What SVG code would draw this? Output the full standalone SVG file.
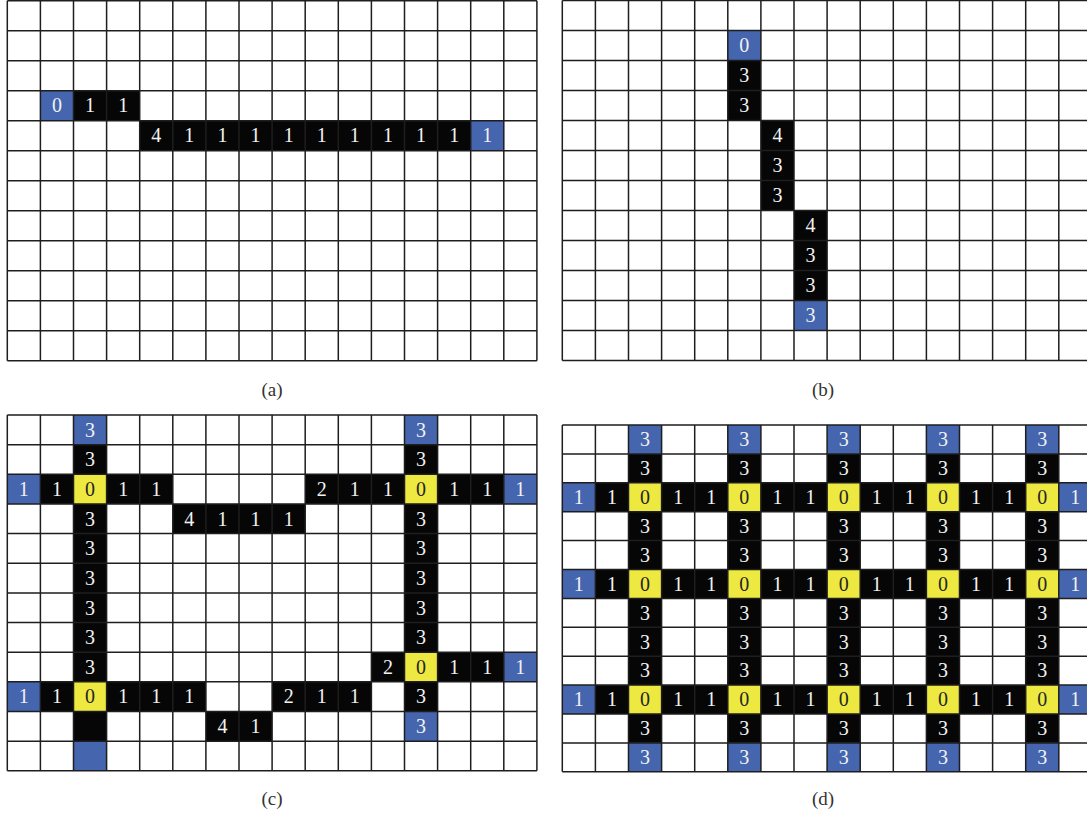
<svg xmlns="http://www.w3.org/2000/svg" width="1087" height="815" viewBox="0 0 1087 815">
<style>
.bg{fill:#ffffff}
.k0{fill:#060606}
.bl{fill:#4565ae}
.ye{fill:#eee941}
.grid{fill:none;stroke:#1e1e1e;stroke-width:1.5}
text{font-family:"Liberation Serif","Times New Roman",serif;font-size:20px;text-anchor:middle}
.w{fill:#f2f2f2}
.d{fill:#262626}
.cap{font-size:19px;fill:#333333}
</style>
<rect class="bg" x="0" y="0" width="1087" height="815"/>

<!-- Panel (a) -->
<g id="panel-a" transform="translate(7.3,0.7)">
  <rect class="bl" x="33.1" y="90" width="33.1" height="30"/>
  <rect class="k0" x="66.2" y="90" width="66.2" height="30"/>
  <rect class="k0" x="132.4" y="120" width="331" height="30"/>
  <rect class="bl" x="463.4" y="120" width="33.1" height="30"/>
  <path class="grid" d="M0 0V360M33.1 0V360M66.2 0V360M99.3 0V360M132.4 0V360M165.5 0V360M198.6 0V360M231.7 0V360M264.8 0V360M297.9 0V360M331 0V360M364.1 0V360M397.2 0V360M430.3 0V360M463.4 0V360M496.5 0V360M529.6 0V360M0 0H529.6M0 30H529.6M0 60H529.6M0 90H529.6M0 120H529.6M0 150H529.6M0 180H529.6M0 210H529.6M0 240H529.6M0 270H529.6M0 300H529.6M0 330H529.6M0 360H529.6"/>
  <text class="w" x="49.65" y="111.8">0</text>
  <text class="w" x="82.75" y="111.8">1</text>
  <text class="w" x="115.85" y="111.8">1</text>
  <text class="w" x="148.95" y="141.8">4</text>
  <text class="w" x="182.05" y="141.8">1</text>
  <text class="w" x="215.15" y="141.8">1</text>
  <text class="w" x="248.25" y="141.8">1</text>
  <text class="w" x="281.35" y="141.8">1</text>
  <text class="w" x="314.45" y="141.8">1</text>
  <text class="w" x="347.55" y="141.8">1</text>
  <text class="w" x="380.65" y="141.8">1</text>
  <text class="w" x="413.75" y="141.8">1</text>
  <text class="w" x="446.85" y="141.8">1</text>
  <text class="w" x="479.95" y="141.8">1</text>
</g>
<text class="cap" x="272" y="396">(a)</text>

<!-- Panel (b) -->
<g id="panel-b" transform="translate(562.3,0.5)">
  <rect class="bl" x="165.5" y="30" width="33.1" height="30"/>
  <rect class="k0" x="165.5" y="60" width="33.1" height="60"/>
  <rect class="k0" x="198.6" y="120" width="33.1" height="90"/>
  <rect class="k0" x="231.7" y="210" width="33.1" height="90"/>
  <rect class="bl" x="231.7" y="300" width="33.1" height="30"/>
  <path class="grid" d="M0 0V360M33.1 0V360M66.2 0V360M99.3 0V360M132.4 0V360M165.5 0V360M198.6 0V360M231.7 0V360M264.8 0V360M297.9 0V360M331 0V360M364.1 0V360M397.2 0V360M430.3 0V360M463.4 0V360M496.5 0V360M529.6 0V360M0 0H529.6M0 30H529.6M0 60H529.6M0 90H529.6M0 120H529.6M0 150H529.6M0 180H529.6M0 210H529.6M0 240H529.6M0 270H529.6M0 300H529.6M0 330H529.6M0 360H529.6"/>
  <text class="w" x="182.05" y="51.8">0</text>
  <text class="w" x="182.05" y="81.8">3</text>
  <text class="w" x="182.05" y="111.8">3</text>
  <text class="w" x="215.15" y="141.8">4</text>
  <text class="w" x="215.15" y="171.8">3</text>
  <text class="w" x="215.15" y="201.8">3</text>
  <text class="w" x="248.25" y="231.8">4</text>
  <text class="w" x="248.25" y="261.8">3</text>
  <text class="w" x="248.25" y="291.8">3</text>
  <text class="w" x="248.25" y="321.8">3</text>
</g>
<text class="cap" x="823" y="396">(b)</text>

<!-- Panel (c) -->
<g id="panel-c" transform="translate(7.3,415)">
  <rect class="k0" x="66.2" y="29.65" width="33.1" height="296.5"/>
  <rect class="k0" x="33.1" y="59.3" width="132.4" height="29.65"/>
  <rect class="k0" x="297.9" y="59.3" width="198.6" height="29.65"/>
  <rect class="k0" x="165.5" y="88.95" width="132.4" height="29.65"/>
  <rect class="k0" x="397.2" y="29.65" width="33.1" height="266.85"/>
  <rect class="k0" x="364.1" y="237.2" width="132.4" height="29.65"/>
  <rect class="k0" x="33.1" y="266.85" width="165.5" height="29.65"/>
  <rect class="k0" x="264.8" y="266.85" width="99.3" height="29.65"/>
  <rect class="k0" x="198.6" y="296.5" width="66.2" height="29.65"/>
  <rect class="bl" x="66.2" y="0" width="33.1" height="29.65"/>
  <rect class="bl" x="397.2" y="0" width="33.1" height="29.65"/>
  <rect class="bl" x="0" y="59.3" width="33.1" height="29.65"/>
  <rect class="bl" x="496.5" y="59.3" width="33.1" height="29.65"/>
  <rect class="bl" x="496.5" y="237.2" width="33.1" height="29.65"/>
  <rect class="bl" x="0" y="266.85" width="33.1" height="29.65"/>
  <rect class="bl" x="397.2" y="296.5" width="33.1" height="29.65"/>
  <rect class="bl" x="66.2" y="326.15" width="33.1" height="29.65"/>
  <rect class="ye" x="66.2" y="59.3" width="33.1" height="29.65"/>
  <rect class="ye" x="397.2" y="59.3" width="33.1" height="29.65"/>
  <rect class="ye" x="397.2" y="237.2" width="33.1" height="29.65"/>
  <rect class="ye" x="66.2" y="266.85" width="33.1" height="29.65"/>
  <path class="grid" d="M0 0V355.8M33.1 0V355.8M66.2 0V355.8M99.3 0V355.8M132.4 0V355.8M165.5 0V355.8M198.6 0V355.8M231.7 0V355.8M264.8 0V355.8M297.9 0V355.8M331 0V355.8M364.1 0V355.8M397.2 0V355.8M430.3 0V355.8M463.4 0V355.8M496.5 0V355.8M529.6 0V355.8M0 0H529.6M0 29.65H529.6M0 59.3H529.6M0 88.95H529.6M0 118.6H529.6M0 148.25H529.6M0 177.9H529.6M0 207.55H529.6M0 237.2H529.6M0 266.85H529.6M0 296.5H529.6M0 326.15H529.6M0 355.8H529.6"/>
  <text class="w" x="82.75" y="21.63">3</text>
  <text class="w" x="413.75" y="21.63">3</text>
  <text class="w" x="82.75" y="51.28">3</text>
  <text class="w" x="413.75" y="51.28">3</text>
  <text class="w" x="16.55" y="80.93">1</text>
  <text class="w" x="49.65" y="80.93">1</text>
  <text class="d" x="82.75" y="80.93">0</text>
  <text class="w" x="115.85" y="80.93">1</text>
  <text class="w" x="148.95" y="80.93">1</text>
  <text class="w" x="314.45" y="80.93">2</text>
  <text class="w" x="347.55" y="80.93">1</text>
  <text class="w" x="380.65" y="80.93">1</text>
  <text class="d" x="413.75" y="80.93">0</text>
  <text class="w" x="446.85" y="80.93">1</text>
  <text class="w" x="479.95" y="80.93">1</text>
  <text class="w" x="513.05" y="80.93">1</text>
  <text class="w" x="82.75" y="110.58">3</text>
  <text class="w" x="182.05" y="110.58">4</text>
  <text class="w" x="215.15" y="110.58">1</text>
  <text class="w" x="248.25" y="110.58">1</text>
  <text class="w" x="281.35" y="110.58">1</text>
  <text class="w" x="413.75" y="110.58">3</text>
  <text class="w" x="82.75" y="140.23">3</text>
  <text class="w" x="413.75" y="140.23">3</text>
  <text class="w" x="82.75" y="169.88">3</text>
  <text class="w" x="413.75" y="169.88">3</text>
  <text class="w" x="82.75" y="199.53">3</text>
  <text class="w" x="413.75" y="199.53">3</text>
  <text class="w" x="82.75" y="229.18">3</text>
  <text class="w" x="413.75" y="229.18">3</text>
  <text class="w" x="82.75" y="258.83">3</text>
  <text class="w" x="380.65" y="258.83">2</text>
  <text class="d" x="413.75" y="258.83">0</text>
  <text class="w" x="446.85" y="258.83">1</text>
  <text class="w" x="479.95" y="258.83">1</text>
  <text class="w" x="513.05" y="258.83">1</text>
  <text class="w" x="16.55" y="288.48">1</text>
  <text class="w" x="49.65" y="288.48">1</text>
  <text class="d" x="82.75" y="288.48">0</text>
  <text class="w" x="115.85" y="288.48">1</text>
  <text class="w" x="148.95" y="288.48">1</text>
  <text class="w" x="182.05" y="288.48">1</text>
  <text class="w" x="281.35" y="288.48">2</text>
  <text class="w" x="314.45" y="288.48">1</text>
  <text class="w" x="347.55" y="288.48">1</text>
  <text class="w" x="413.75" y="288.48">3</text>
  <text class="w" x="215.15" y="318.13">4</text>
  <text class="w" x="248.25" y="318.13">1</text>
  <text class="w" x="413.75" y="318.13">3</text>
</g>
<text class="cap" x="272" y="805">(c)</text>

<!-- Panel (d) -->
<g id="panel-d" transform="translate(562.3,425)">
  <rect class="k0" x="66.2" y="28.9" width="33.1" height="289"/>
  <rect class="k0" x="165.5" y="28.9" width="33.1" height="289"/>
  <rect class="k0" x="264.8" y="28.9" width="33.1" height="289"/>
  <rect class="k0" x="364.1" y="28.9" width="33.1" height="289"/>
  <rect class="k0" x="463.4" y="28.9" width="33.1" height="289"/>
  <rect class="k0" x="33.1" y="57.8" width="463.4" height="28.9"/>
  <rect class="k0" x="33.1" y="144.5" width="463.4" height="28.9"/>
  <rect class="k0" x="33.1" y="260.1" width="463.4" height="28.9"/>
  <rect class="bl" x="66.2" y="0" width="33.1" height="28.9"/>
  <rect class="bl" x="165.5" y="0" width="33.1" height="28.9"/>
  <rect class="bl" x="264.8" y="0" width="33.1" height="28.9"/>
  <rect class="bl" x="364.1" y="0" width="33.1" height="28.9"/>
  <rect class="bl" x="463.4" y="0" width="33.1" height="28.9"/>
  <rect class="bl" x="66.2" y="317.9" width="33.1" height="28.9"/>
  <rect class="bl" x="165.5" y="317.9" width="33.1" height="28.9"/>
  <rect class="bl" x="264.8" y="317.9" width="33.1" height="28.9"/>
  <rect class="bl" x="364.1" y="317.9" width="33.1" height="28.9"/>
  <rect class="bl" x="463.4" y="317.9" width="33.1" height="28.9"/>
  <rect class="bl" x="0" y="57.8" width="33.1" height="28.9"/>
  <rect class="bl" x="0" y="144.5" width="33.1" height="28.9"/>
  <rect class="bl" x="0" y="260.1" width="33.1" height="28.9"/>
  <rect class="bl" x="496.5" y="57.8" width="33.1" height="28.9"/>
  <rect class="bl" x="496.5" y="144.5" width="33.1" height="28.9"/>
  <rect class="bl" x="496.5" y="260.1" width="33.1" height="28.9"/>
  <rect class="ye" x="66.2" y="57.8" width="33.1" height="28.9"/>
  <rect class="ye" x="165.5" y="57.8" width="33.1" height="28.9"/>
  <rect class="ye" x="264.8" y="57.8" width="33.1" height="28.9"/>
  <rect class="ye" x="364.1" y="57.8" width="33.1" height="28.9"/>
  <rect class="ye" x="463.4" y="57.8" width="33.1" height="28.9"/>
  <rect class="ye" x="66.2" y="144.5" width="33.1" height="28.9"/>
  <rect class="ye" x="165.5" y="144.5" width="33.1" height="28.9"/>
  <rect class="ye" x="264.8" y="144.5" width="33.1" height="28.9"/>
  <rect class="ye" x="364.1" y="144.5" width="33.1" height="28.9"/>
  <rect class="ye" x="463.4" y="144.5" width="33.1" height="28.9"/>
  <rect class="ye" x="66.2" y="260.1" width="33.1" height="28.9"/>
  <rect class="ye" x="165.5" y="260.1" width="33.1" height="28.9"/>
  <rect class="ye" x="264.8" y="260.1" width="33.1" height="28.9"/>
  <rect class="ye" x="364.1" y="260.1" width="33.1" height="28.9"/>
  <rect class="ye" x="463.4" y="260.1" width="33.1" height="28.9"/>
  <path class="grid" d="M0 0V346.8M33.1 0V346.8M66.2 0V346.8M99.3 0V346.8M132.4 0V346.8M165.5 0V346.8M198.6 0V346.8M231.7 0V346.8M264.8 0V346.8M297.9 0V346.8M331 0V346.8M364.1 0V346.8M397.2 0V346.8M430.3 0V346.8M463.4 0V346.8M496.5 0V346.8M529.6 0V346.8M0 0H529.6M0 28.9H529.6M0 57.8H529.6M0 86.7H529.6M0 115.6H529.6M0 144.5H529.6M0 173.4H529.6M0 202.3H529.6M0 231.2H529.6M0 260.1H529.6M0 289H529.6M0 317.9H529.6M0 346.8H529.6"/>
  <!-- row 0 -->
  <text class="w" x="82.75" y="21.25">3</text><text class="w" x="182.05" y="21.25">3</text><text class="w" x="281.35" y="21.25">3</text><text class="w" x="380.65" y="21.25">3</text><text class="w" x="479.95" y="21.25">3</text>
  <!-- row 1 -->
  <text class="w" x="82.75" y="50.15">3</text><text class="w" x="182.05" y="50.15">3</text><text class="w" x="281.35" y="50.15">3</text><text class="w" x="380.65" y="50.15">3</text><text class="w" x="479.95" y="50.15">3</text>
  <!-- row 2 -->
  <text class="w" x="16.55" y="79.05">1</text><text class="w" x="49.65" y="79.05">1</text><text class="d" x="82.75" y="79.05">0</text><text class="w" x="115.85" y="79.05">1</text><text class="w" x="148.95" y="79.05">1</text><text class="d" x="182.05" y="79.05">0</text><text class="w" x="215.15" y="79.05">1</text><text class="w" x="248.25" y="79.05">1</text><text class="d" x="281.35" y="79.05">0</text><text class="w" x="314.45" y="79.05">1</text><text class="w" x="347.55" y="79.05">1</text><text class="d" x="380.65" y="79.05">0</text><text class="w" x="413.75" y="79.05">1</text><text class="w" x="446.85" y="79.05">1</text><text class="d" x="479.95" y="79.05">0</text><text class="w" x="513.05" y="79.05">1</text>
  <!-- row 3 -->
  <text class="w" x="82.75" y="107.95">3</text><text class="w" x="182.05" y="107.95">3</text><text class="w" x="281.35" y="107.95">3</text><text class="w" x="380.65" y="107.95">3</text><text class="w" x="479.95" y="107.95">3</text>
  <!-- row 4 -->
  <text class="w" x="82.75" y="136.85">3</text><text class="w" x="182.05" y="136.85">3</text><text class="w" x="281.35" y="136.85">3</text><text class="w" x="380.65" y="136.85">3</text><text class="w" x="479.95" y="136.85">3</text>
  <!-- row 5 -->
  <text class="w" x="16.55" y="165.75">1</text><text class="w" x="49.65" y="165.75">1</text><text class="d" x="82.75" y="165.75">0</text><text class="w" x="115.85" y="165.75">1</text><text class="w" x="148.95" y="165.75">1</text><text class="d" x="182.05" y="165.75">0</text><text class="w" x="215.15" y="165.75">1</text><text class="w" x="248.25" y="165.75">1</text><text class="d" x="281.35" y="165.75">0</text><text class="w" x="314.45" y="165.75">1</text><text class="w" x="347.55" y="165.75">1</text><text class="d" x="380.65" y="165.75">0</text><text class="w" x="413.75" y="165.75">1</text><text class="w" x="446.85" y="165.75">1</text><text class="d" x="479.95" y="165.75">0</text><text class="w" x="513.05" y="165.75">1</text>
  <!-- row 6 -->
  <text class="w" x="82.75" y="194.65">3</text><text class="w" x="182.05" y="194.65">3</text><text class="w" x="281.35" y="194.65">3</text><text class="w" x="380.65" y="194.65">3</text><text class="w" x="479.95" y="194.65">3</text>
  <!-- row 7 -->
  <text class="w" x="82.75" y="223.55">3</text><text class="w" x="182.05" y="223.55">3</text><text class="w" x="281.35" y="223.55">3</text><text class="w" x="380.65" y="223.55">3</text><text class="w" x="479.95" y="223.55">3</text>
  <!-- row 8 -->
  <text class="w" x="82.75" y="252.45">3</text><text class="w" x="182.05" y="252.45">3</text><text class="w" x="281.35" y="252.45">3</text><text class="w" x="380.65" y="252.45">3</text><text class="w" x="479.95" y="252.45">3</text>
  <!-- row 9 -->
  <text class="w" x="16.55" y="281.35">1</text><text class="w" x="49.65" y="281.35">1</text><text class="d" x="82.75" y="281.35">0</text><text class="w" x="115.85" y="281.35">1</text><text class="w" x="148.95" y="281.35">1</text><text class="d" x="182.05" y="281.35">0</text><text class="w" x="215.15" y="281.35">1</text><text class="w" x="248.25" y="281.35">1</text><text class="d" x="281.35" y="281.35">0</text><text class="w" x="314.45" y="281.35">1</text><text class="w" x="347.55" y="281.35">1</text><text class="d" x="380.65" y="281.35">0</text><text class="w" x="413.75" y="281.35">1</text><text class="w" x="446.85" y="281.35">1</text><text class="d" x="479.95" y="281.35">0</text><text class="w" x="513.05" y="281.35">1</text>
  <!-- row 10 -->
  <text class="w" x="82.75" y="310.25">3</text><text class="w" x="182.05" y="310.25">3</text><text class="w" x="281.35" y="310.25">3</text><text class="w" x="380.65" y="310.25">3</text><text class="w" x="479.95" y="310.25">3</text>
  <!-- row 11 -->
  <text class="w" x="82.75" y="339.15">3</text><text class="w" x="182.05" y="339.15">3</text><text class="w" x="281.35" y="339.15">3</text><text class="w" x="380.65" y="339.15">3</text><text class="w" x="479.95" y="339.15">3</text>
</g>
<text class="cap" x="823" y="805">(d)</text>
</svg>
